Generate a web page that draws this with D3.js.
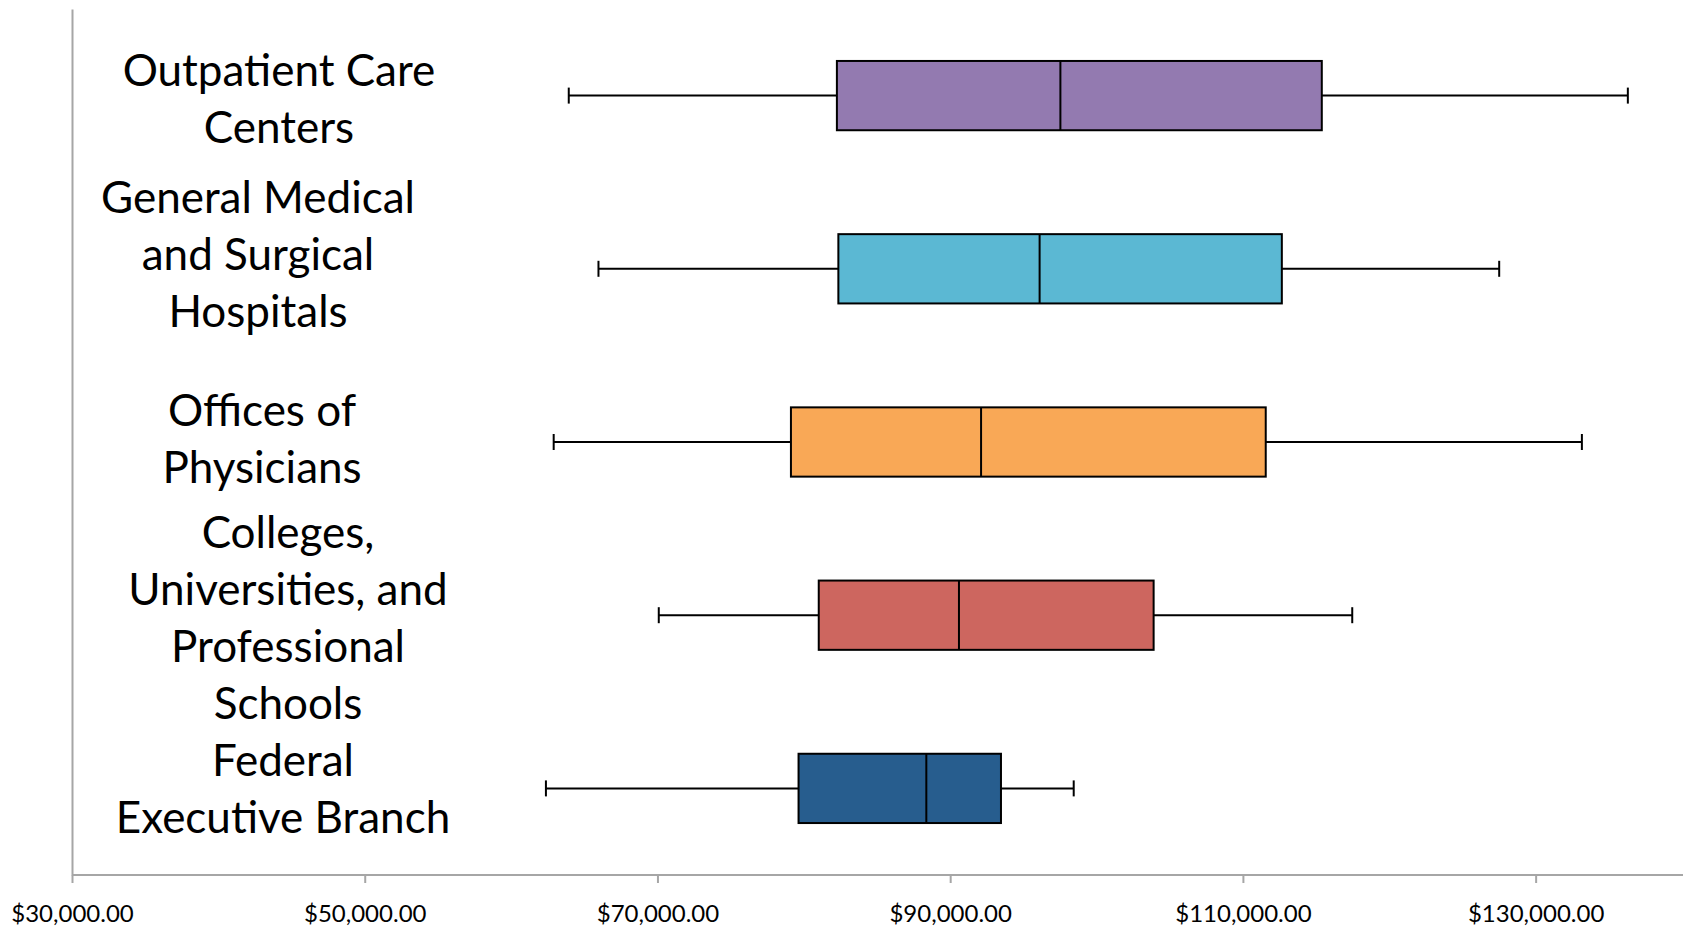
<!DOCTYPE html>
<html>
<head>
<meta charset="utf-8">
<script src="https://cdn.jsdelivr.net/npm/d3@7"></script>
<style>
  html, body { margin: 0; padding: 0; background: #ffffff; }
  svg { display: block; }
</style>
</head>
<body>
<svg id="chart" width="1683" height="929"></svg>
<script>
// ---------- data ----------
const categories = [
  "Outpatient Care\nCenters",
  "General Medical\nand Surgical\nHospitals",
  "Offices of\nPhysicians",
  "Colleges,\nUniversities, and\nProfessional\nSchools",
  "Federal\nExecutive Branch"
];
const minValues    = [63940, 65970, 62910, 70090, 62380];
const q1Values     = [82260, 82360, 79120, 81020, 79640];
const medianValues = [97530, 96110, 92110, 90600, 88370];
const q3Values     = [115390, 112660, 111560, 103900, 93470];
const maxValues    = [136300, 127510, 133160, 117470, 98440];
const boxColors    = ["#937AB0", "#5BB8D3", "#F9A856", "#CD665F", "#275D8E"];
const xTicks       = [30000, 50000, 70000, 90000, 110000, 130000];
const xDomain      = [30000, 140000];

// ---------- layout ----------
const W = 1683, H = 929;
const plotLeft = 72, plotRight = 1682, plotTop = 9, plotBottom = 875;
const labelFont = "Lato, 'Open Sans', sans-serif";

const rows = categories.map((c, i) => ({
  cat: c, min: minValues[i], q1: q1Values[i], med: medianValues[i],
  q3: q3Values[i], max: maxValues[i], color: boxColors[i]
}));

const x = d3.scaleLinear().domain(xDomain).range([plotLeft, plotRight]);
const y = d3.scaleBand().domain(categories).range([plotTop, plotBottom]).paddingInner(0).paddingOuter(0);
const boxH = y.bandwidth() * 0.4;
const capH = 16;

const svg = d3.select("#chart");

// x axis
const xAxis = d3.axisBottom(x)
  .tickValues(xTicks)
  .tickSize(8)
  .tickPadding(22)
  .tickFormat(d => "$" + d3.format(",.2f")(d));
const gx = svg.append("g")
  .attr("transform", `translate(0,${plotBottom})`)
  .call(xAxis);
gx.select(".domain").attr("stroke", "#a6a6a6").attr("stroke-width", 2)
  .attr("d", `M${plotLeft},0H${W}`);
gx.selectAll(".tick line").attr("stroke", "#a6a6a6").attr("stroke-width", 2);
gx.selectAll(".tick text")
  .attr("font-family", labelFont)
  .attr("font-size", 24)
  .attr("fill", "#000");

// y axis line
const yAxis = d3.axisLeft(y).tickSize(0).tickFormat("");
const gy = svg.append("g").attr("transform", `translate(${plotLeft},0)`).call(yAxis);
gy.select(".domain").attr("stroke", "#a6a6a6").attr("stroke-width", 2);

// category labels (wrapped, centered)
const labelNudge = [[279, 4], [258, -14], [262, -3], [288, 3], [283, 1.5]];
const lineH = 57;
rows.forEach((r, i) => {
  const lines = r.cat.split("\n");
  const cy = y(r.cat) + y.bandwidth() / 2 + labelNudge[i][1];
  const firstBaseline = cy - (lines.length - 1) * lineH / 2 + 15;
  const t = svg.append("text")
    .attr("font-family", labelFont)
    .attr("font-size", 44)
    .attr("text-anchor", "middle")
    .attr("fill", "#000");
  lines.forEach((ln, j) => {
    t.append("tspan").attr("x", labelNudge[i][0]).attr("y", firstBaseline + j * lineH).text(ln);
  });
});

// boxes
const g = svg.append("g");
const box = g.selectAll("g.box").data(rows).join("g").attr("class", "box");
const cyOf = d => y(d.cat) + y.bandwidth() / 2;

box.append("line")
  .attr("x1", d => x(d.min)).attr("x2", d => x(d.q1))
  .attr("y1", cyOf).attr("y2", cyOf)
  .attr("stroke", "#000").attr("stroke-width", 2);
box.append("line")
  .attr("x1", d => x(d.q3)).attr("x2", d => x(d.max))
  .attr("y1", cyOf).attr("y2", cyOf)
  .attr("stroke", "#000").attr("stroke-width", 2);
box.append("line")
  .attr("x1", d => x(d.min)).attr("x2", d => x(d.min))
  .attr("y1", d => cyOf(d) - capH / 2).attr("y2", d => cyOf(d) + capH / 2)
  .attr("stroke", "#000").attr("stroke-width", 2);
box.append("line")
  .attr("x1", d => x(d.max)).attr("x2", d => x(d.max))
  .attr("y1", d => cyOf(d) - capH / 2).attr("y2", d => cyOf(d) + capH / 2)
  .attr("stroke", "#000").attr("stroke-width", 2);
box.append("rect")
  .attr("x", d => x(d.q1)).attr("width", d => x(d.q3) - x(d.q1))
  .attr("y", d => cyOf(d) - boxH / 2).attr("height", boxH)
  .attr("fill", d => d.color)
  .attr("stroke", "#000").attr("stroke-width", 2);
box.append("line")
  .attr("x1", d => x(d.med)).attr("x2", d => x(d.med))
  .attr("y1", d => cyOf(d) - boxH / 2).attr("y2", d => cyOf(d) + boxH / 2)
  .attr("stroke", "#000").attr("stroke-width", 2);
</script>
</body>
</html>
